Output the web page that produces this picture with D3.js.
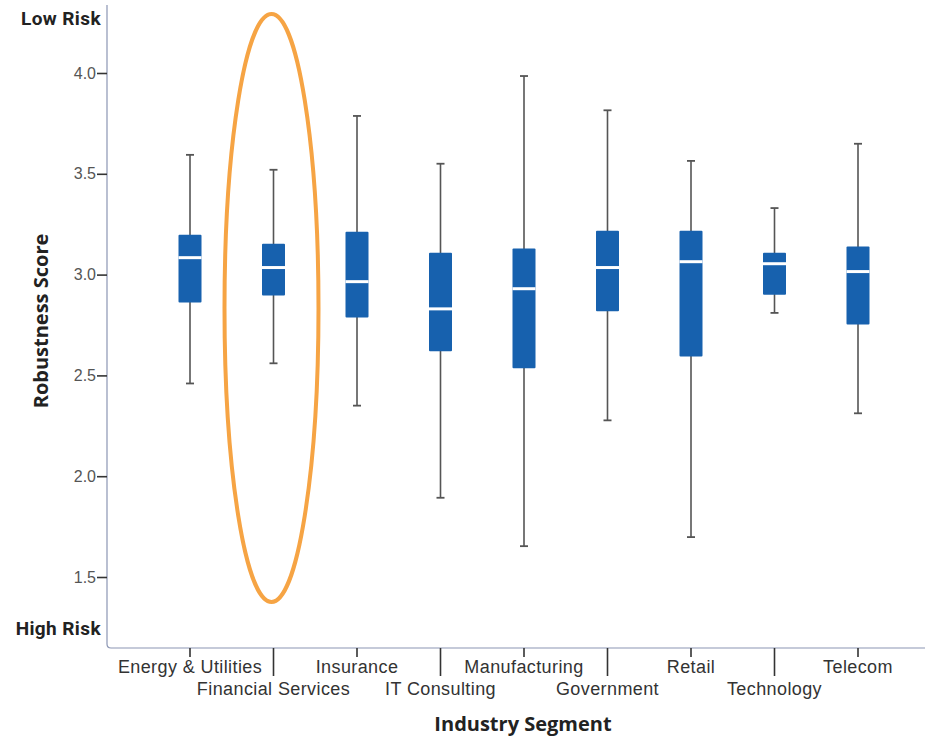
<!DOCTYPE html>
<html><head><meta charset="utf-8">
<script src="https://cdn.jsdelivr.net/npm/d3@7"></script>
<style>body{margin:0;background:#fff}svg{display:block}</style>
</head><body>
<svg id="c" width="930" height="740"></svg>
<script>
const categories = ["Energy & Utilities","Financial Services","Insurance","IT Consulting","Manufacturing","Government","Retail","Technology","Telecom"];
const whiskerHigh = [3.594,3.52,3.787,3.55,3.985,3.815,3.564,3.33,3.649];
const q3Values    = [3.198,3.153,3.213,3.109,3.129,3.218,3.218,3.109,3.139];
const medians     = [3.084,3.035,2.965,2.83,2.93,3.035,3.064,3.054,3.015];
const q1Values    = [2.862,2.896,2.787,2.62,2.535,2.818,2.594,2.9,2.752];
const whiskerLow  = [2.46,2.56,2.35,1.893,1.653,2.277,1.698,2.81,2.312];
const yTicks = [1.5,2.0,2.5,3.0,3.5,4.0];
const data = categories.map((c,i)=>({c,hi:whiskerHigh[i],q3:q3Values[i],med:medians[i],q1:q1Values[i],lo:whiskerLow[i]}));

(function(){
const svg = d3.select("#c");
const L = 107, R = 925, T = 5, B = 648;
const y = d3.scaleLinear().domain([1.5,4.0]).range([577,73]);
const x = d3.scalePoint().domain(categories).range([190,858]);
const font = "'Liberation Sans', Arial, sans-serif";
const bold = "Roboto, 'Open Sans', sans-serif";
const axisCol = "#8c96b4";

svg.append("path").attr("d",`M${L},${T}V${B-4}Q${L},${B} ${L+4},${B}H${R}`)
  .attr("fill","none").attr("stroke",axisCol).attr("stroke-width",1.2);

const yAxis = d3.axisLeft(y).tickValues(yTicks).tickFormat(d3.format(".1f")).tickSize(10).tickPadding(1);
const gy = svg.append("g").attr("transform",`translate(${L},0)`).call(yAxis);
gy.select(".domain").remove();
gy.selectAll(".tick line").attr("stroke","#333").attr("stroke-width",1.6);
gy.selectAll(".tick text").attr("font-family",font).attr("font-size",16).attr("fill","#555");

svg.append("text").attr("x",101).attr("y",25).attr("text-anchor","end")
  .attr("font-family",bold).attr("font-weight","bold").attr("font-size",19).attr("letter-spacing",0.4).attr("fill","#222").text("Low Risk");
svg.append("text").attr("x",101).attr("y",635).attr("text-anchor","end")
  .attr("font-family",bold).attr("font-weight","bold").attr("font-size",19).attr("letter-spacing",0.4).attr("fill","#222").text("High Risk");
svg.append("text").attr("transform",`translate(48,321) rotate(-90)`).attr("text-anchor","middle")
  .attr("font-family","'Open Sans', sans-serif").attr("font-weight","bold").attr("font-size",20).attr("fill","#222").text("Robustness Score");

const gx = svg.append("g");
categories.forEach((c,i)=>{
  const up = i%2===0;
  gx.append("line").attr("x1",x(c)).attr("x2",x(c)).attr("y1",B).attr("y2",up?B+9:B+28)
    .attr("stroke","#333").attr("stroke-width",1.6);
  gx.append("text").attr("x",x(c)).attr("y",up?673:695).attr("text-anchor","middle")
    .attr("font-family",font).attr("font-size",18).attr("letter-spacing",0.4).attr("fill","#333").text(c);
});
svg.append("text").attr("x",523).attr("y",731).attr("text-anchor","middle")
  .attr("font-family","'Open Sans', sans-serif").attr("font-weight","bold").attr("font-size",20).attr("fill","#222").text("Industry Segment");

const bw = 23, cap = 8;
const g = svg.append("g").selectAll("g").data(data).join("g").attr("transform",d=>`translate(${x(d.c)},0)`);
g.append("line").attr("y1",d=>y(d.hi)).attr("y2",d=>y(d.lo)).attr("stroke","#555").attr("stroke-width",1.6);
g.append("line").attr("x1",-cap/2).attr("x2",cap/2).attr("y1",d=>y(d.hi)).attr("y2",d=>y(d.hi)).attr("stroke","#555").attr("stroke-width",1.8);
g.append("line").attr("x1",-cap/2).attr("x2",cap/2).attr("y1",d=>y(d.lo)).attr("y2",d=>y(d.lo)).attr("stroke","#555").attr("stroke-width",1.8);
g.append("rect").attr("x",-bw/2).attr("width",bw).attr("y",d=>y(d.q3)).attr("height",d=>y(d.q1)-y(d.q3))
  .attr("fill","#1761ae").attr("rx",1);
g.append("line").attr("x1",-bw/2).attr("x2",bw/2).attr("y1",d=>y(d.med)).attr("y2",d=>y(d.med))
  .attr("stroke","#fff").attr("stroke-width",3);

svg.append("ellipse").attr("cx",x("Financial Services")-2).attr("cy",308).attr("rx",47).attr("ry",294)
  .attr("fill","none").attr("stroke","#f6a444").attr("stroke-width",4);
})();
</script>
</body></html>
